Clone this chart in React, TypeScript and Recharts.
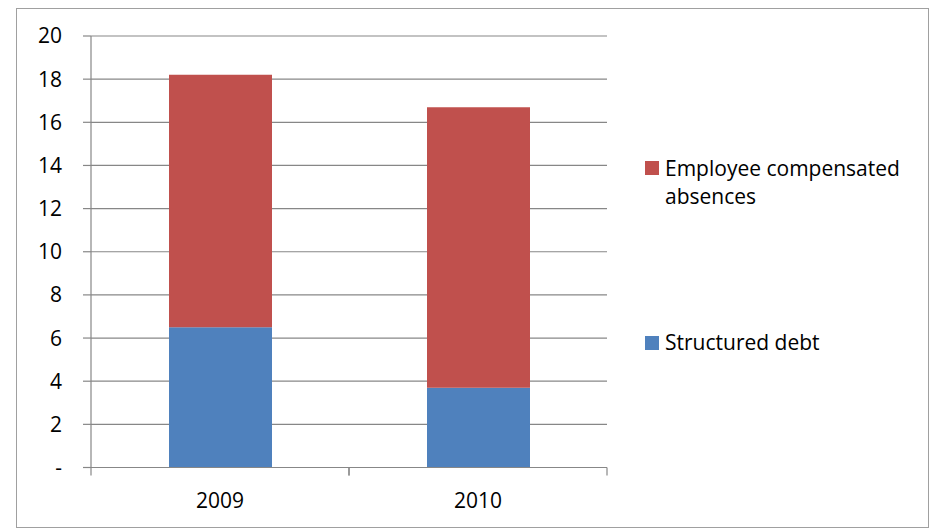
import { BarChart, Bar, XAxis, YAxis, CartesianGrid, Legend } from 'recharts';

// 연도별 값
const years = ['2009', '2010'];
const structuredDebt = [6.5, 3.7];
const compensatedAbsences = [11.7, 13.0];
const yTicks = [0, 2, 4, 6, 8, 10, 12, 14, 16, 18, 20];

const BLUE = '#4f81bd';
const RED = '#c0504d';
const GRID = '#878787';
const FONT = '"Open Sans", sans-serif';

const TICK_SIZE = 8;
const TICK_GAP = 17;

const data = years.map((year, i) => ({
  year,
  debt: structuredDebt[i],
  absences: compensatedAbsences[i],
}));

// x축 눈금: 카테고리 경계에 눈금선, 가운데에 라벨
const XTick = (props: any) => {
  const { x, y, payload } = props;
  const half = payload?.offset ?? 0;
  const axisY = y - TICK_SIZE - TICK_GAP;
  return (
    <g>
      <line x1={x - half} x2={x - half} y1={axisY} y2={axisY + TICK_SIZE} stroke={GRID} strokeWidth={1.2} />
      <line x1={x + half} x2={x + half} y1={axisY} y2={axisY + TICK_SIZE} stroke={GRID} strokeWidth={1.2} />
      <text x={x} y={y} dy={15} textAnchor="middle" fill="#000" fontSize={21} fontFamily={FONT}>
        {payload.value}
      </text>
    </g>
  );
};

// 범례 (엑셀 스타일)
const LegendBox = () => (
  <div style={{ position: 'relative', width: 280, height: 220, fontFamily: FONT, fontSize: 21, color: '#000' }}>
    <div style={{ position: 'absolute', left: 0, top: 11, width: 14, height: 14, background: RED }} />
    <div style={{ position: 'absolute', left: 20, top: 3.6, width: 250, lineHeight: '28.5px' }}>
      Employee compensated absences
    </div>
    <div style={{ position: 'absolute', left: 0, top: 185.7, width: 14, height: 14, background: BLUE }} />
    <div style={{ position: 'absolute', left: 20, top: 177.6, width: 250, lineHeight: '28.5px', whiteSpace: 'nowrap' }}>
      Structured debt
    </div>
  </div>
);

export default function App() {
  return (
    <div style={{ position: 'absolute', left: 0, top: 0, width: 938, height: 529, background: '#fff' }}>
      <div
        style={{
          position: 'absolute',
          left: 16,
          top: 8,
          width: 913,
          height: 520,
          border: '1px solid #a0a0a0',
          boxSizing: 'border-box',
        }}
      />
      <BarChart
        width={938}
        height={529}
        data={data}
        margin={{ top: 36, right: 331, left: 31, bottom: 21.5 }}
        style={{ fontFamily: FONT }}
      >
        <CartesianGrid vertical={false} stroke={GRID} strokeWidth={1.2} />
        <XAxis
          dataKey="year"
          height={40}
          tickLine={false}
          tickSize={TICK_SIZE}
          tickMargin={TICK_GAP}
          tick={<XTick />}
          axisLine={{ stroke: GRID, strokeWidth: 1.2 }}
        />
        <YAxis
          domain={[0, 20]}
          ticks={yTicks}
          interval={0}
          width={60}
          tickSize={TICK_SIZE}
          tickMargin={21}
          tickFormatter={(v: number) => (v === 0 ? '-' : String(v))}
          tick={{ fontSize: 21, fill: '#000', fontFamily: FONT }}
          tickLine={{ stroke: GRID, strokeWidth: 1.2 }}
          axisLine={{ stroke: GRID, strokeWidth: 1.2 }}
        />
        <Legend
          layout="vertical"
          align="center"
          verticalAlign="middle"
          content={<LegendBox />}
          wrapperStyle={{ left: 645, top: 150, width: 280 }}
        />
        <Bar dataKey="debt" name="Structured debt" stackId="a" fill={BLUE} barSize={103} isAnimationActive={false} />
        <Bar
          dataKey="absences"
          name="Employee compensated absences"
          stackId="a"
          fill={RED}
          barSize={103}
          isAnimationActive={false}
        />
      </BarChart>
    </div>
  );
}
